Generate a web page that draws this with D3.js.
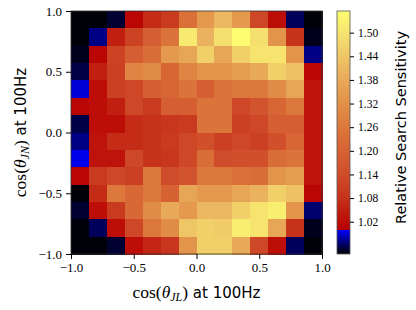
<!DOCTYPE html>
<html>
<head>
<meta charset="utf-8">
<script src="https://cdn.jsdelivr.net/npm/d3@7"></script>
<style>
  body { margin: 0; background: #fff; }
  svg { display: block; }
  .tick text { font-family: "Liberation Serif", serif; fill: #000; }
</style>
</head>
<body>
<div id="chart"></div>
<script>
// 14 x 14 bins of cos(theta_JL) (columns, -1 -> 1) and cos(theta_JN) (rows, +1 at top -> -1 at bottom)
const nBins = 14;
const sensitivity = [
  [0.94, 0.94, 0.95, 1.01, 1.07, 1.10, 1.24, 1.34, 1.41, 1.34, 1.13, 1.02, 0.96, 0.94],
  [0.94, 0.97, 1.05, 1.12, 1.19, 1.25, 1.51, 1.40, 1.49, 1.55, 1.49, 1.33, 1.08, 0.945],
  [0.945, 1.01, 1.12, 1.19, 1.23, 1.34, 1.37, 1.46, 1.37, 1.46, 1.50, 1.50, 1.33, 0.97],
  [0.955, 1.05, 1.11, 1.29, 1.31, 1.21, 1.29, 1.33, 1.33, 1.35, 1.38, 1.46, 1.43, 1.01],
  [0.99, 1.02, 1.11, 1.13, 1.19, 1.21, 1.25, 1.19, 1.25, 1.26, 1.26, 1.31, 1.37, 1.03],
  [1.01, 1.02, 1.05, 1.13, 1.10, 1.19, 1.19, 1.25, 1.25, 1.13, 1.16, 1.21, 1.26, 1.03],
  [0.955, 1.02, 1.02, 1.07, 1.08, 1.09, 1.10, 1.25, 1.25, 1.11, 1.13, 1.19, 1.19, 1.03],
  [0.97, 1.03, 1.07, 1.07, 1.08, 1.10, 1.13, 1.15, 1.11, 1.13, 1.11, 1.15, 1.21, 1.03],
  [0.995, 1.03, 1.03, 1.13, 1.08, 1.09, 1.13, 1.23, 1.14, 1.15, 1.15, 1.23, 1.25, 1.03],
  [1.01, 1.10, 1.13, 1.11, 1.26, 1.14, 1.16, 1.26, 1.26, 1.24, 1.23, 1.33, 1.35, 1.03],
  [0.94, 1.07, 1.26, 1.22, 1.26, 1.20, 1.37, 1.34, 1.34, 1.37, 1.40, 1.46, 1.43, 1.01],
  [0.95, 1.02, 1.10, 1.22, 1.31, 1.38, 1.34, 1.41, 1.41, 1.46, 1.50, 1.52, 1.33, 0.965],
  [0.94, 0.96, 1.02, 1.13, 1.26, 1.31, 1.44, 1.46, 1.45, 1.52, 1.50, 1.37, 1.08, 0.945],
  [0.94, 0.94, 0.95, 1.02, 1.06, 1.09, 1.33, 1.46, 1.46, 1.38, 1.13, 1.02, 0.96, 0.94]
];
const axisTicks = [-1.0, -0.5, 0.0, 0.5, 1.0];
const cbarTicks = [1.02, 1.08, 1.14, 1.20, 1.26, 1.32, 1.38, 1.44, 1.50];
const cbarRange = [0.938, 1.555];

const W = 416, H = 310;
const plot = {left: 71, right: 322, top: 11, bottom: 254};
const cbar = {left: 337, right: 350};

const svg = d3.select('#chart').append('svg')
    .attr('width', W)
    .attr('height', H);

const x = d3.scaleLinear().domain([-1, 1]).range([plot.left, plot.right]);
const y = d3.scaleLinear().domain([-1, 1]).range([plot.bottom, plot.top]);

// below 1: black -> blue, above 1: red -> yellow
const blue = d3.scaleLinear().domain([cbarRange[0], 1.0]).range(['#000000', '#0000ff']).clamp(true);
const heat = d3.scaleLinear()
    .domain([1.0, 1.08, 1.16, 1.24, 1.32, 1.40, 1.48, cbarRange[1]])
    .range(['#b80000', '#c6321a', '#d2542e', '#da7038', '#e29048', '#eab25e', '#f3da6e', '#ffff72'])
    .clamp(true);
const color = v => v < 1.0 ? blue(v) : heat(v);

const edges = d3.range(nBins + 1).map(i => -1 + i * 2 / nBins);

const cells = [];
sensitivity.forEach((row, r) => {
    row.forEach((v, c) => {
        cells.push({c, r, v});
    });
});

svg.append('g')
    .attr('shape-rendering', 'crispEdges')
    .selectAll('rect')
    .data(cells)
    .join('rect')
    .attr('x', d => x(edges[d.c]))
    .attr('width', d => x(edges[d.c + 1]) - x(edges[d.c]) + 0.5)
    .attr('y', d => y(edges[nBins - d.r]))
    .attr('height', d => y(edges[nBins - d.r - 1]) - y(edges[nBins - d.r]) + 0.5)
    .attr('fill', d => color(d.v));

svg.append('rect')
    .attr('x', plot.left).attr('y', plot.top)
    .attr('width', plot.right - plot.left).attr('height', plot.bottom - plot.top)
    .attr('fill', 'none').attr('stroke', '#333').attr('stroke-width', 0.8);

const fmt = d3.format('.1f');

const xAxis = svg.append('g')
    .attr('transform', `translate(0,${plot.bottom})`)
    .call(d3.axisBottom(x).tickValues(axisTicks).tickFormat(fmt).tickSize(5).tickPadding(4));
xAxis.select('.domain').remove();
xAxis.selectAll('text').style('font-size', '13px');

const yAxis = svg.append('g')
    .attr('transform', `translate(${plot.left},0)`)
    .call(d3.axisLeft(y).tickValues(axisTicks).tickFormat(fmt).tickSize(5).tickPadding(4));
yAxis.select('.domain').remove();
yAxis.selectAll('text').style('font-size', '13px');

// axis labels: serif math + sans text
function mathLabel(sel, sub) {
    sel.append('tspan').attr('font-family', 'Liberation Serif, serif').text('cos(');
    sel.append('tspan').attr('font-family', 'Liberation Serif, serif').attr('font-style', 'italic').text('θ');
    sel.append('tspan').attr('font-family', 'Liberation Serif, serif').attr('font-style', 'italic')
        .attr('font-size', '12px').attr('dy', 3).text(sub);
    sel.append('tspan').attr('font-family', 'Liberation Serif, serif').attr('dy', -3).text(')');
    sel.append('tspan').attr('font-family', 'DejaVu Sans, sans-serif').attr('font-size', '15px').text(' at 100Hz');
}

const xl = svg.append('text')
    .attr('x', (plot.left + plot.right) / 2)
    .attr('y', 298)
    .attr('text-anchor', 'middle')
    .attr('font-size', '17.5px');
mathLabel(xl, 'JL');

const yl = svg.append('text')
    .attr('transform', `translate(26,${(plot.top + plot.bottom) / 2}) rotate(-90)`)
    .attr('text-anchor', 'middle')
    .attr('font-size', '17.5px');
mathLabel(yl, 'JN');

// colorbar
const cy = d3.scaleLinear().domain(cbarRange).range([plot.bottom, plot.top]);
const steps = d3.range(plot.top, plot.bottom, 1);
svg.append('g')
    .attr('shape-rendering', 'crispEdges')
    .selectAll('rect')
    .data(steps)
    .join('rect')
    .attr('x', cbar.left)
    .attr('width', cbar.right - cbar.left)
    .attr('y', d => d)
    .attr('height', 1.2)
    .attr('fill', d => color(cy.invert(d + 0.5)));

svg.append('rect')
    .attr('x', cbar.left).attr('y', plot.top)
    .attr('width', cbar.right - cbar.left).attr('height', plot.bottom - plot.top)
    .attr('fill', 'none').attr('stroke', '#555').attr('stroke-width', 0.8);

const cAxis = svg.append('g')
    .attr('transform', `translate(${cbar.right},0)`)
    .call(d3.axisRight(cy).tickValues(cbarTicks).tickFormat(d3.format('.2f')).tickSize(4).tickPadding(4));
cAxis.select('.domain').remove();
cAxis.selectAll('text').style('font-size', '11.5px');

svg.append('text')
    .attr('transform', `translate(406,${(plot.top + plot.bottom) / 2 - 5}) rotate(-90)`)
    .attr('text-anchor', 'middle')
    .attr('font-family', 'DejaVu Sans, sans-serif')
    .attr('font-size', '14.5px')
    .text('Relative Search Sensitivity');
</script>
</body>
</html>
